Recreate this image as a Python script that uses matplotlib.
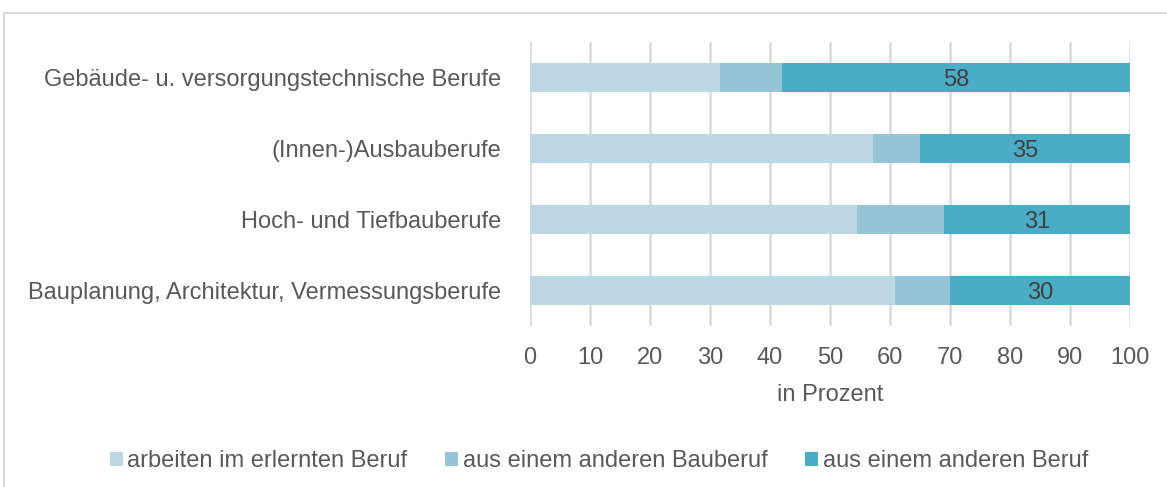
import matplotlib
matplotlib.use("Agg")
import matplotlib.pyplot as plt
from matplotlib.lines import Line2D
from matplotlib.patches import Patch

plt.rcParams['font.family'] = ['Liberation Sans', 'DejaVu Sans']

categories = ["Bauplanung, Architektur, Vermessungsberufe",
              "Hoch- und Tiefbauberufe",
              "(Innen-)Ausbauberufe",
              "Gebäude- u. versorgungstechnische Berufe"]
erlernt = [60.8, 54.5, 57.2, 31.7]
anderer_bau = [9.2, 14.5, 7.8, 10.3]
anderer_beruf = [30, 31, 35, 58]
series_names = ["arbeiten im erlernten Beruf", "aus einem anderen Bauberuf",
                "aus einem anderen Beruf"]
xticks = [0, 10, 20, 30, 40, 50, 60, 70, 80, 90, 100]

colors = ["#BDD8E4", "#94C4D5", "#4BACC6"]
txt = "#595959"
fs = 17

W, H = 1167, 487
fig = plt.figure(figsize=(W / 100, H / 100), dpi=100)
ax = fig.add_axes([530 / W, 1 - 326 / H, 600 / W, 284 / H])

y = list(range(len(categories)))
left1 = erlernt
left2 = [a + b for a, b in zip(erlernt, anderer_bau)]
h = 0.41
ax.barh(y, erlernt, height=h, color=colors[0], zorder=2)
ax.barh(y, anderer_bau, left=left1, height=h, color=colors[1], zorder=2)
ax.barh(y, anderer_beruf, left=left2, height=h, color=colors[2], zorder=2)
for yi, l, v in zip(y, left2, anderer_beruf):
    ax.text(l + v / 2, yi - 0.03, f"{v}", ha="center", va="center", fontsize=fs,
            color="#404040", zorder=3)

ax.set_xlim(0, 100)
ax.set_ylim(-0.5, 3.5)
ax.set_xticks(xticks)
ax.set_xticklabels([str(t) for t in xticks])
ax.set_yticks(y)
ax.set_yticklabels(categories)
ax.tick_params(axis="both", length=0, labelsize=fs, labelcolor=txt)
ax.tick_params(axis="x", pad=15)
ax.tick_params(axis="y", pad=21)
ax.grid(axis="x", color="#D9D9D9", linewidth=1.8, zorder=0)
for s in ax.spines.values():
    s.set_visible(False)
ax.set_xlabel("in Prozent", fontsize=fs, color=txt, labelpad=11)

handles = [Patch(facecolor=c, edgecolor="none") for c in colors]
fig.legend(handles, series_names, loc="center", bbox_to_anchor=(599 / W, 1 - 461 / H),
           ncol=3, frameon=False, fontsize=fs, labelcolor=txt,
           handlelength=0.55, handleheight=0.55, handletextpad=0.2,
           columnspacing=1.6)

# outer frame (left and top only visible)
fig.add_artist(Line2D([3.5 / W, 3.5 / W], [0, 1 - 13 / H], transform=fig.transFigure,
                      color="#D9D9D9", linewidth=1.5))
fig.add_artist(Line2D([3.5 / W, 1], [1 - 13 / H, 1 - 13 / H], transform=fig.transFigure,
                      color="#D9D9D9", linewidth=1.5))

fig.savefig("out.png", dpi=100)
